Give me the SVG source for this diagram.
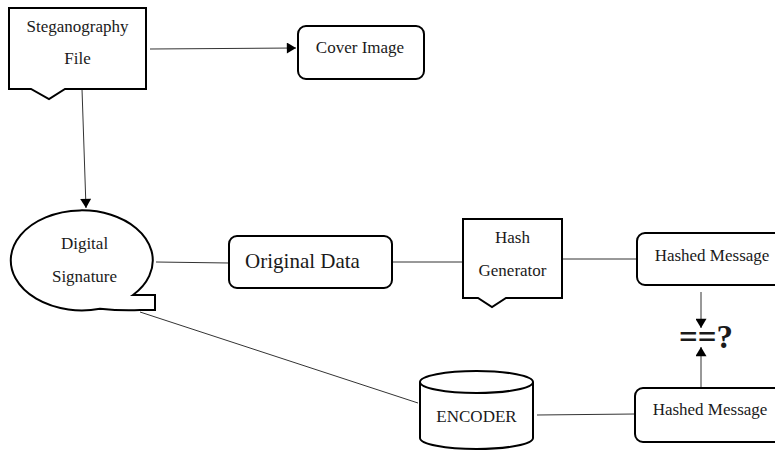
<svg xmlns="http://www.w3.org/2000/svg" width="775" height="450" viewBox="0 0 775 450">
<style>
.n{fill:#fff;stroke:#000;stroke-width:2}
.t{fill:#1a1a1a;text-anchor:middle}
.c{stroke:#333;stroke-width:1;fill:none}
</style>
<defs>
<marker id="ah" viewBox="0 0 10 12" refX="10" refY="6" markerWidth="11" markerHeight="11" markerUnits="userSpaceOnUse" orient="auto">
<path d="M0,0 L10,6 L0,12 Z" fill="#000"/>
</marker>
</defs>
<rect width="775" height="450" fill="#fff"/>
<g id="connectors">
<line class="c" x1="150" y1="49" x2="296" y2="48" marker-end="url(#ah)"/>
<line class="c" x1="82" y1="89" x2="86" y2="208" marker-end="url(#ah)"/>
<line class="c" x1="156" y1="262" x2="229" y2="263"/>
<line class="c" x1="392" y1="262" x2="463" y2="262"/>
<line class="c" x1="562" y1="259" x2="637" y2="259"/>
<line class="c" x1="140" y1="312" x2="418" y2="403"/>
<line class="c" x1="537" y1="415" x2="635" y2="414"/>
<line class="c" x1="701" y1="292" x2="701" y2="328" marker-end="url(#ah)"/>
<line class="c" x1="701" y1="388" x2="701" y2="347" marker-end="url(#ah)"/>
</g>
<g id="steganography-file">
<path class="n" d="M9,8 H146 V89 H65 L49,99 L31,89 H9 Z"/>
<text class="t" x="77.5" y="32" font-size="17" font-family="Liberation Serif, serif">Steganography</text>
<text class="t" x="77.5" y="64" font-size="17" font-family="Liberation Serif, serif">File</text>
</g>
<g id="cover-image">
<rect class="n" x="298" y="26" width="126" height="53" rx="8"/>
<text class="t" x="360" y="53" font-size="17" font-family="Liberation Serif, serif">Cover Image</text>
</g>
<g id="digital-signature">
<path class="n" d="M133,295 A71,50 0 1 0 100,308.7 Q122,311 140,310 H155 V295 Z"/>
<text class="t" x="84.5" y="249" font-size="17" font-family="Liberation Serif, serif">Digital</text>
<text class="t" x="84.5" y="282" font-size="17" font-family="Liberation Serif, serif">Signature</text>
</g>
<g id="original-data">
<rect class="n" x="229" y="236" width="163" height="52" rx="8"/>
<text class="t" x="302.5" y="268" font-size="21" font-family="Liberation Serif, serif">Original Data</text>
</g>
<g id="hash-generator">
<path class="n" d="M463,219 H562 V298 H506 L492,307 L478,298 H463 Z"/>
<text class="t" x="512.5" y="243" font-size="17" font-family="Liberation Serif, serif">Hash</text>
<text class="t" x="512.5" y="276" font-size="17" font-family="Liberation Serif, serif">Generator</text>
</g>
<g id="hashed-message-1">
<rect class="n" x="637" y="233" width="160" height="52" rx="8"/>
<text class="t" x="712" y="261" font-size="17" font-family="Liberation Serif, serif">Hashed Message</text>
</g>
<g id="compare">
<text class="t" x="706" y="348" font-size="33" font-weight="bold" font-family="Liberation Serif, serif">==?</text>
</g>
<g id="encoder">
<path class="n" d="M420,382 V438 A56.5,11 0 0 0 533,438 V382"/>
<ellipse class="n" cx="476.5" cy="382" rx="56.5" ry="11"/>
<text class="t" x="476.5" y="422" font-size="17" font-family="Liberation Serif, serif">ENCODER</text>
</g>
<g id="hashed-message-2">
<rect class="n" x="635" y="388" width="160" height="54" rx="8"/>
<text class="t" x="710" y="415" font-size="17" font-family="Liberation Serif, serif">Hashed Message</text>
</g>
</svg>
